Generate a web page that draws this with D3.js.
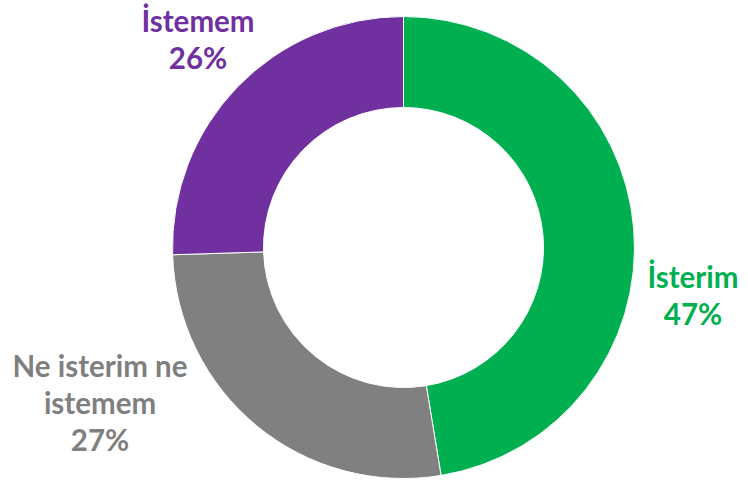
<!DOCTYPE html>
<html>
<head>
<meta charset="utf-8">
<script src="https://cdn.jsdelivr.net/npm/d3@7/dist/d3.min.js"></script>
<style>
html,body{margin:0;padding:0;background:#ffffff;}
svg{display:block;}
</style>
</head>
<body>
<svg id="chart" width="748" height="483"></svg>
<script>
// Data
const categories = ["İsterim", "Ne isterim ne istemem", "İstemem"];
const values = [47.4, 27.1, 25.5];
const percentLabels = ["47%", "27%", "26%"];
const labelLines = [["İsterim"], ["Ne isterim ne", "istemem"], ["İstemem"]];
const colors = ["#00B050", "#808080", "#7030A0"];

const W = 748, H = 483;
const cx = 403.5, cy = 247.5, outerR = 231, innerR = 140;
const svg = d3.select("#chart");

const g = svg.append("g").attr("transform", `translate(${cx},${cy})`);
const pie = d3.pie().sort(null).value(d => d)(values);
const arc = d3.arc().innerRadius(innerR).outerRadius(outerR);

g.selectAll("path").data(pie).enter().append("path")
  .attr("d", arc)
  .attr("fill", (d, i) => colors[i])
  .attr("stroke", "#ffffff")
  .attr("stroke-width", 1);

// Label positions (absolute) for each category
const labelPos = [
  {x: 693, y: 288},
  {x: 100, y: 377},
  {x: 198, y: 32}
];
const lineH = 37;
const fontSize = 29.5;

categories.forEach((c, i) => {
  const lines = labelLines[i].concat([percentLabels[i]]);
  const t = svg.append("text")
    .attr("text-anchor", "middle")
    .attr("font-family", "Lato, 'Open Sans', sans-serif")
    .attr("font-weight", "bold")
    .attr("font-size", fontSize)
    .attr("fill", colors[i] === "#808080" ? "#7F7F7F" : colors[i]);
  lines.forEach((ln, j) => {
    t.append("tspan")
      .attr("x", labelPos[i].x)
      .attr("y", labelPos[i].y + j * lineH)
      .text(ln);
  });
});
</script>
</body>
</html>
